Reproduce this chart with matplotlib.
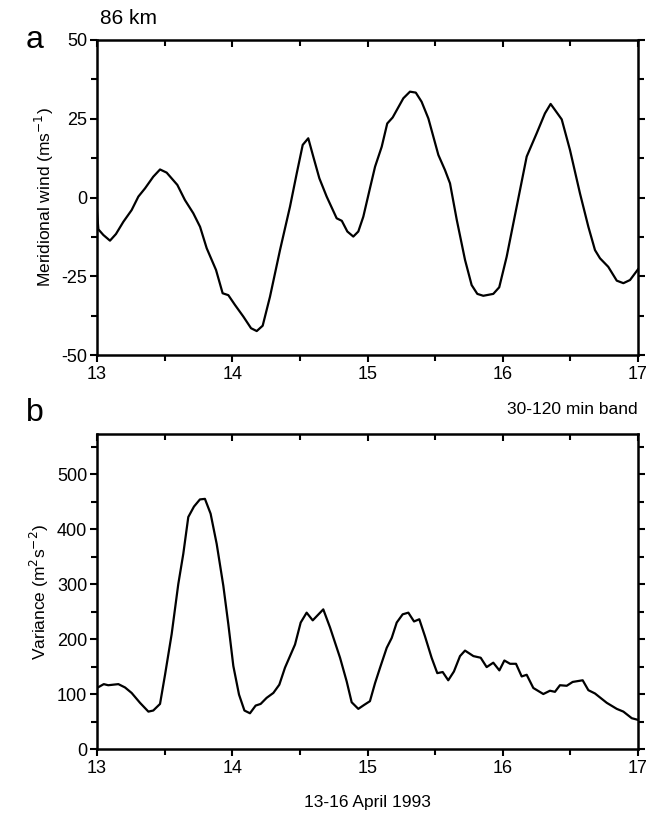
import matplotlib
matplotlib.use("Agg")
import matplotlib.pyplot as plt
from matplotlib.ticker import MultipleLocator

plt.rcParams.update({"font.family": ["Liberation Sans", "DejaVu Sans"], "font.size": 13,
                     "axes.unicode_minus": False})

# Panel a: meridional wind at 86 km (day of April 1993, m/s)
wind_day = [13.0, 13.01, 13.047, 13.096, 13.14, 13.195, 13.256, 13.306, 13.355, 13.416,
            13.466, 13.515, 13.594, 13.65, 13.712, 13.762, 13.811, 13.88, 13.929, 13.971,
            14.02, 14.082, 14.139, 14.181, 14.225, 14.279, 14.353, 14.427, 14.477, 14.521,
            14.562, 14.599, 14.644, 14.698, 14.772, 14.81, 14.851, 14.895, 14.932, 14.969,
            15.018, 15.056, 15.105, 15.146, 15.186, 15.265, 15.314, 15.357, 15.4, 15.45,
            15.524, 15.573, 15.61, 15.66, 15.721, 15.77, 15.812, 15.856, 15.93, 15.974,
            16.029, 16.103, 16.177, 16.251, 16.312, 16.354, 16.386, 16.436, 16.497, 16.571,
            16.633, 16.682, 16.719, 16.78, 16.843, 16.892, 16.941, 17.0]
wind_val = [-4.5, -10.1, -11.9, -13.7, -11.6, -7.7, -4.0, 0.3, 2.9, 6.6,
            8.9, 7.9, 4.0, -0.8, -5.0, -9.3, -16.1, -23.0, -30.4, -31.0,
            -34.1, -37.8, -41.5, -42.4, -40.7, -31.5, -16.7, -2.9, 7.7, 16.7,
            18.8, 13.0, 6.1, 0.3, -6.6, -7.4, -10.8, -12.4, -10.8, -6.1,
            2.9, 9.8, 16.1, 23.5, 25.4, 31.5, 33.6, 33.3, 30.4, 25.1,
            13.5, 8.7, 4.5, -7.1, -19.8, -27.8, -30.6, -31.2, -30.6, -28.5,
            -18.8, -2.9, 13.0, 20.4, 26.7, 29.7, 27.8, 24.8, 15.1, 1.3,
            -9.3, -16.7, -19.3, -22.0, -26.4, -27.2, -26.2, -22.8]

# Panel b: 30-120 min band variance (m^2 s^-2)
var_day = [13.0, 13.05, 13.083, 13.158, 13.207, 13.256, 13.318, 13.38, 13.416, 13.466,
           13.503, 13.552, 13.601, 13.638, 13.675, 13.717, 13.761, 13.798, 13.84, 13.885,
           13.934, 13.971, 14.008, 14.05, 14.09, 14.131, 14.173, 14.21, 14.254, 14.304,
           14.348, 14.39, 14.427, 14.464, 14.506, 14.55, 14.595, 14.673, 14.723, 14.797,
           14.846, 14.883, 14.932, 14.974, 15.018, 15.056, 15.093, 15.142, 15.179, 15.216,
           15.26, 15.302, 15.344, 15.383, 15.425, 15.474, 15.516, 15.556, 15.597, 15.639,
           15.684, 15.721, 15.783, 15.837, 15.881, 15.93, 15.975, 16.012, 16.054, 16.098,
           16.14, 16.177, 16.226, 16.3, 16.349, 16.386, 16.423, 16.473, 16.517, 16.591,
           16.633, 16.682, 16.769, 16.843, 16.892, 16.954, 17.0]
var_val = [111, 118, 116, 118, 112, 102, 84, 68, 70, 82,
           135, 209, 300, 355, 422, 441, 454, 455, 428, 373,
           297, 227, 151, 99, 70, 65, 79, 82, 93, 102,
           117, 148, 169, 190, 230, 248, 234, 254, 221, 166,
           123, 85, 73, 80, 87, 120, 148, 184, 202, 230,
           245, 248, 232, 236, 205, 166, 138, 140, 125, 141,
           169, 179, 169, 166, 149, 157, 143, 161, 155, 155,
           132, 135, 111, 100, 106, 104, 116, 115, 122, 125,
           107, 101, 84, 73, 68, 56, 53]

W, H = 652, 815
fig = plt.figure(figsize=(W / 100, H / 100), dpi=100)


def px_axes(left, top, right, bottom):
    return fig.add_axes([left / W, 1 - bottom / H, (right - left) / W, (bottom - top) / H])


def style(ax):
    for s in ax.spines.values():
        s.set_linewidth(1.8)
    ax.set_xlim(13, 17)
    ax.xaxis.set_major_locator(MultipleLocator(1))
    ax.xaxis.set_minor_locator(MultipleLocator(0.5))
    ax.tick_params(which="both", top=True, right=True, width=1.5)
    ax.tick_params(which="major", length=5)
    ax.tick_params(which="minor", length=4)
    ax.tick_params(axis="x", which="both", direction="out", pad=3)
    ax.tick_params(axis="y", which="both", direction="out", pad=2)
    # top and right ticks point inward
    for t in ax.xaxis.get_major_ticks() + ax.xaxis.get_minor_ticks():
        t.tick2line.set_marker(3)
    for t in ax.yaxis.get_major_ticks() + ax.yaxis.get_minor_ticks():
        t.tick2line.set_marker(1)


ax1 = px_axes(97, 40, 638, 355)
ax1.plot(wind_day, wind_val, color="black", lw=1.6)
ax1.set_ylim(-50, 50)
ax1.yaxis.set_major_locator(MultipleLocator(25))
ax1.yaxis.set_minor_locator(MultipleLocator(12.5))
style(ax1)
ax1.set_ylabel("Meridional wind (ms$^{-1}$)", fontsize=12.5, labelpad=4)

ax2 = px_axes(97, 434, 638, 749)
ax2.plot(var_day, var_val, color="black", lw=1.6)
ax2.set_ylim(0, 573)
ax2.yaxis.set_major_locator(MultipleLocator(100))
ax2.yaxis.set_minor_locator(MultipleLocator(50))
style(ax2)
ax2.set_ylabel("Variance (m$^2$s$^{-2}$)", fontsize=12.5, labelpad=4)

fig.text(35 / W, 1 - 40 / H, "a", fontsize=23, ha="center", va="center")
fig.text(35 / W, 1 - 413 / H, "b", fontsize=23, ha="center", va="center")
fig.text(100 / W, 1 - 18 / H, "86 km", fontsize=15, ha="left", va="center")
fig.text(638 / W, 1 - 410 / H, "30-120 min band", fontsize=12.5, ha="right", va="center")
fig.text(367 / W, 1 - 803 / H, "13-16 April 1993", fontsize=12.5, ha="center", va="center")

fig.savefig("out.png", dpi=100)
